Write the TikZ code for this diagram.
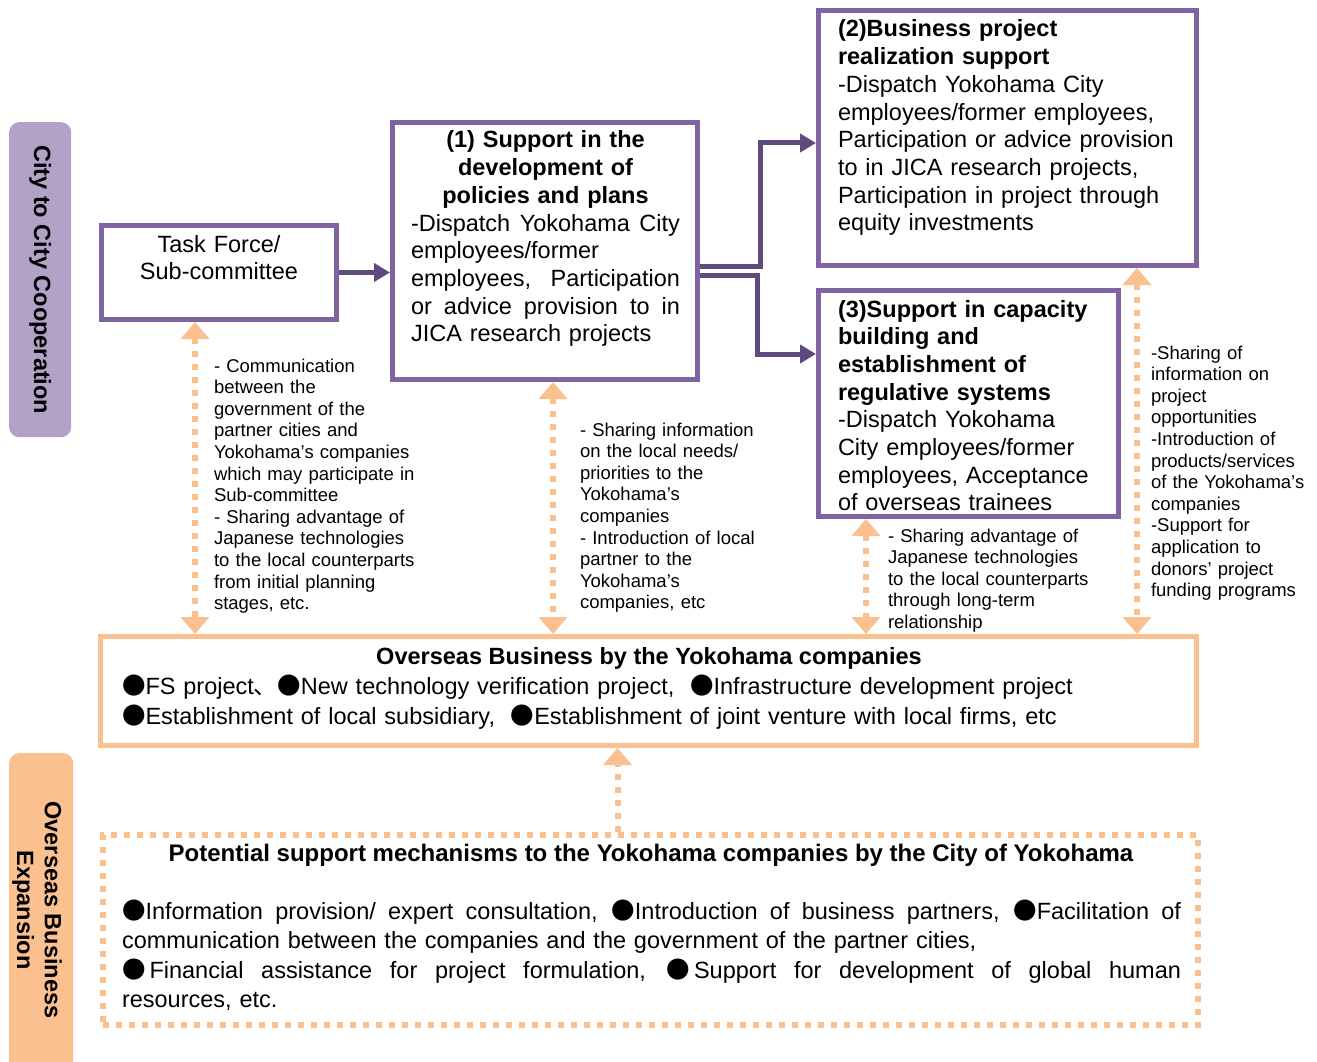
\documentclass[tikz,border=0pt]{standalone}
\usepackage{fontspec}
\setmainfont{Liberation Sans}
\newfontfamily\cjkfont{Noto Sans CJK JP}
\usetikzlibrary{arrows.meta}

\definecolor{boxpurple}{HTML}{8064A2}
\definecolor{arrowpurple}{HTML}{5F4A7E}
\definecolor{labelpurple}{HTML}{B3A2C7}
\definecolor{peach}{HTML}{FAC090}

\newcommand{\blt}{{\cjkfont ●}}
\newcommand{\bigtext}{\fontsize{23.5pt}{27.7pt}\selectfont}
\newcommand{\smalltext}{\fontsize{18.5pt}{21.6pt}\selectfont}
% a line stretched to a given width (justified line)
\newcommand{\jline}[2]{\leavevmode\hbox to #1{\spaceskip=0.28em plus 2em\relax #2}}

\begin{document}
\begin{tikzpicture}[x=1pt,y=-1pt,
  pbox/.style={draw=boxpurple, line width=5pt, fill=white, anchor=north west, inner sep=0pt},
  obox/.style={draw=peach, line width=5pt, fill=white, anchor=north west, inner sep=0pt},
  dotbox/.style={draw=peach, line width=6pt, dash pattern=on 6pt off 7pt, anchor=north west, inner sep=0pt},
  sidelabel/.style={anchor=north west, inner sep=0pt, rounded corners=10pt},
  txt/.style={inner sep=0pt, outer sep=0pt, align=left},
  parrow/.style={draw=arrowpurple, line width=5pt, -{Triangle[width=18pt,length=16pt]}},
  oarrow/.style={draw=peach, line width=6pt, dash pattern=on 6pt off 7pt,
    {Triangle[width=28pt,length=17pt]}-{Triangle[width=28pt,length=17pt]}},
  oarrowup/.style={draw=peach, line width=6pt, dash pattern=on 6pt off 7pt,
    -{Triangle[width=28pt,length=17pt]}}
]
\useasboundingbox (0,0) rectangle (1317,1062);

% side labels
\node[sidelabel, fill=labelpurple, minimum width=62pt, minimum height=315pt] (lblcity) at (9,122) {};
\node[txt, rotate=-90, font=\bigtext\bfseries] (lblcitytext) at (lblcity.center) {City to City Cooperation};
\node[sidelabel, fill=peach, minimum width=64pt, minimum height=340pt] (lblexp) at (9,753) {};
\node[txt, rotate=-90, font=\bigtext\bfseries, align=center] (lblexptext) at (37,910) {Overseas Business\\Expansion};

% boxes
\node[pbox, minimum width=235pt, minimum height=94pt] (tf) at (99,223) {};
\node[pbox, minimum width=305pt, minimum height=257pt] (b1) at (390,120) {};
\node[pbox, minimum width=378pt, minimum height=255pt] (b2) at (816,8) {};
\node[pbox, minimum width=300pt, minimum height=226pt] (b3) at (816,288) {};
\node[obox, minimum width=1096pt, minimum height=109pt] (ob) at (98,634) {};
\node[dotbox, minimum width=1095pt, minimum height=190pt] (pb) at (100,832) {};

% box texts
\node[txt, font=\bigtext, text width=240pt, align=center, anchor=base] (tftext) at (219,252)
  {Task Force/\\Sub-committee};

\node[txt, font=\bigtext, text width=269pt, anchor=base west] (b1text) at (411,148)
  {{\centering\bfseries (1) Support in the\\development of\\policies and plans\par}
   \jline{269pt}{-Dispatch Yokohama City}\\
   employees/former\\
   \jline{269pt}{employees, Participation}\\
   \jline{269pt}{or advice provision to in}\\
   JICA research projects};

\node[txt, font=\bigtext, text width=355pt, anchor=base west] (b2text) at (838,37)
  {\textbf{(2)Business project}\\
   \textbf{realization support}\\
   -Dispatch Yokohama City\\
   employees/former employees,\\
   Participation or advice provision\\
   to in JICA research projects,\\
   Participation in project through\\
   equity investments};

\node[txt, font=\bigtext, text width=280pt, anchor=base west] (b3text) at (838,317)
  {\textbf{(3)Support in capacity}\\
   \textbf{building and}\\
   \textbf{establishment of}\\
   \textbf{regulative systems}\\
   -Dispatch Yokohama\\
   City employees/former\\
   employees, Acceptance\\
   of overseas trainees};

\node[txt, font=\bigtext\bfseries, anchor=base] (obtitle) at (649,664)
  {Overseas Business by the Yokohama companies};
\node[txt, font=\fontsize{23.5pt}{30.5pt}\selectfont, text width=1060pt, anchor=base west] (obtext) at (122,694)
  {\blt FS project{\cjkfont 、}\blt New technology verification project,\ \ \blt Infrastructure development project\\
   \blt Establishment of local subsidiary,\ \ \blt Establishment of joint venture with local firms, etc};

\node[txt, font=\fontsize{24pt}{28pt}\selectfont\bfseries, anchor=base] (pbtitle) at (651,861)
  {Potential support mechanisms to the Yokohama companies by the City of Yokohama};
\node[txt, font=\fontsize{23.5pt}{29.5pt}\selectfont, text width=1059pt, anchor=base west] (pbtext) at (122,919)
  {\jline{1059pt}{\blt Information provision/ expert consultation, \blt Introduction of business partners, \blt Facilitation of}\\
   communication between the companies and the government of the partner cities,\\
   \jline{1059pt}{\blt\kern4pt Financial assistance for project formulation, \blt\kern4pt Support for development of global human}\\
   resources, etc.};

% arrow labels
\node[txt, font=\smalltext, text width=215pt, anchor=base west] (noteA) at (214,372)
  {- Communication\\
   between the\\
   government of the\\
   partner cities and\\
   Yokohama’s companies\\
   which may participate in\\
   Sub-committee\\
   - Sharing advantage of\\
   Japanese technologies\\
   to the local counterparts\\
   from initial planning\\
   stages, etc.};

\node[txt, font=\smalltext, text width=190pt, anchor=base west] (noteB) at (580,436)
  {- Sharing information\\
   on the local needs/\\
   priorities to the\\
   Yokohama’s\\
   companies\\
   - Introduction of local\\
   partner to the\\
   Yokohama’s\\
   companies, etc};

\node[txt, font=\smalltext, text width=210pt, anchor=base west] (noteC) at (888,542)
  {- Sharing advantage of\\
   Japanese technologies\\
   to the local counterparts\\
   through long-term\\
   relationship};

\node[txt, font=\smalltext, text width=160pt, anchor=base west] (noteD) at (1151,359)
  {-Sharing of\\
   information on\\
   project\\
   opportunities\\
   -Introduction of\\
   products/services\\
   of the Yokohama’s\\
   companies\\
   -Support for\\
   application to\\
   donors’ project\\
   funding programs};

% purple connectors
\draw[parrow] (tf.east) -- (tf.east -| b1.west);
\draw[parrow] ([yshift=-146pt]b1.north east) -- ++(60,0) |- ([yshift=-135pt]b2.north west);
\draw[parrow] ([yshift=-155pt]b1.north east) -- ++(57,0) |- ([yshift=-66pt]b3.north west);

% dotted two-way connectors
\draw[oarrow] ([xshift=-24pt]tf.south) -- ([xshift=-24pt]tf.south |- ob.north);
\draw[oarrow] ([xshift=8pt]b1.south) -- ([xshift=8pt]b1.south |- ob.north);
\draw[oarrow] ([xshift=-102.5pt]b3.south) -- ([xshift=-102.5pt]b3.south |- ob.north);
\draw[oarrow] ([xshift=129.5pt]b2.south) -- ([xshift=129.5pt]b2.south |- ob.north);
\draw[oarrowup] ([xshift=-33pt]pb.north) -- ([xshift=-33pt]pb.north |- ob.south);
\end{tikzpicture}
\end{document}
